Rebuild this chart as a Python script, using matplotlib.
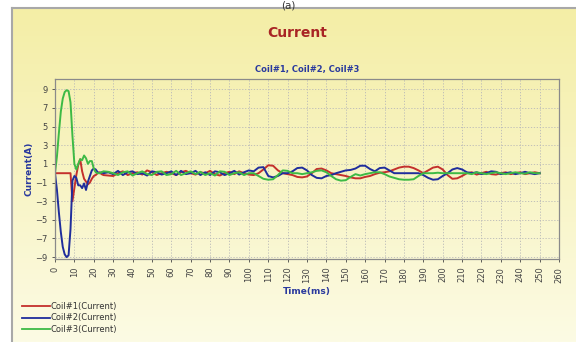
import numpy as np
import matplotlib
matplotlib.use("Agg")
import matplotlib.pyplot as plt
from matplotlib.lines import Line2D

# time axis (ms): 1 ms steps during the transient, then 2.5 ms steps
time_early = list(range(0, 26))
time_late = list(np.arange(27.5, 250.1, 2.5))
time_ms = np.array(time_early + time_late)

coil1_early = [0, 0, 0, 0, 0, 0, 0, 0, 0, -3.0, -1.6, -0.2, 0.9, 1.5, 0.2, -0.6,
               -0.9, -1.2, -1.0, -0.6, -0.3, -0.2, 0.0, 0.1, -0.1, -0.2]
coil2_early = [0, -1.8, -4.2, -6.3, -7.9, -8.7, -9.0, -8.8, -6.0, -0.8, -0.3, -0.5,
               -1.3, -1.3, -1.6, -1.1, -1.8, -0.9, -0.3, 0.3, 0.5, 0.4, 0.1, 0.0, 0.1, 0.0]
coil3_early = [0, 1.8, 4.3, 6.6, 8.0, 8.7, 8.9, 8.8, 7.6, 4.0, 1.0, 0.4,
               1.0, 1.5, 1.4, 1.9, 1.6, 1.0, 1.3, 1.3, 0.5, 0.1, 0.0, 0.0, 0.1, 0.2]

coil1_late = [-0.25, -0.3, 0.0, 0.2, -0.2, 0.0, 0.1, -0.15, 0.3, 0.1,
              -0.2, 0.0, 0.15, 0.0, -0.2, 0.1, 0.25, 0.0, -0.15, 0.1,
              0.0, 0.25, -0.1, -0.25, 0.0, 0.15, -0.1, 0.2, 0.0, -0.15,
              -0.2, 0.0, 0.4, 0.85, 0.8, 0.3, 0.0, -0.1, -0.2, -0.4,
              -0.45, -0.35, 0.0, 0.45, 0.5, 0.3, 0.0, -0.1, -0.2, -0.3,
              -0.45, -0.55, -0.55, -0.4, -0.3, -0.1, 0.05, 0.1, 0.2, 0.4,
              0.6, 0.7, 0.7, 0.55, 0.3, 0.0, 0.3, 0.6, 0.7, 0.4,
              -0.2, -0.6, -0.55, -0.3, 0.0, 0.1, -0.15, 0.0, 0.15, -0.1,
              -0.15, 0.0, 0.1, -0.1, 0.0, 0.1, -0.1, 0.0, 0.1, 0.0]
coil2_late = [0.1, -0.1, 0.25, -0.2, 0.1, 0.2, -0.1, 0.0, -0.25, 0.2,
              0.1, -0.15, 0.0, 0.2, -0.2, 0.25, -0.1, 0.0, 0.25, -0.2,
              0.1, -0.2, 0.2, 0.1, -0.2, 0.0, 0.25, -0.15, 0.1, 0.3,
              0.2, 0.6, 0.65, -0.3, -0.45, -0.3, 0.0, 0.0, 0.2, 0.55,
              0.6, 0.3, -0.2, -0.5, -0.55, -0.3, -0.2, 0.0, 0.15, 0.3,
              0.35, 0.5, 0.8, 0.8, 0.45, 0.2, 0.55, 0.6, 0.3, 0.0,
              0.0, 0.0, 0.0, 0.0, 0.0, -0.2, -0.5, -0.7, -0.65, -0.3,
              0.0, 0.4, 0.55, 0.4, 0.1, 0.0, 0.1, -0.1, 0.0, 0.2,
              0.15, -0.1, 0.0, 0.1, -0.1, 0.0, 0.15, 0.0, -0.1, 0.0]
coil3_late = [0.15, 0.0, -0.2, 0.1, 0.2, -0.25, 0.0, 0.2, -0.1, -0.2,
              0.15, 0.2, -0.2, -0.1, 0.25, -0.2, 0.0, 0.2, -0.1, 0.15,
              -0.2, 0.0, -0.25, 0.2, 0.15, -0.2, 0.0, 0.1, -0.2, 0.0,
              0.0, -0.3, -0.6, -0.7, -0.65, -0.2, 0.3, 0.25, 0.0, 0.0,
              -0.1, 0.0, 0.1, 0.25, 0.3, 0.1, -0.3, -0.65, -0.8, -0.75,
              -0.4, -0.1, -0.25, -0.1, 0.0, 0.1, 0.1, -0.1, -0.35, -0.5,
              -0.65, -0.7, -0.7, -0.65, -0.3, 0.0, 0.0, 0.0, 0.05, 0.0,
              0.0, 0.0, 0.0, 0.0, 0.0, -0.1, 0.1, 0.0, -0.1, 0.0,
              0.1, 0.0, -0.1, 0.0, 0.1, 0.0, -0.05, 0.1, 0.0, 0.0]

coil1 = np.array(coil1_early + coil1_late)
coil2 = np.array(coil2_early + coil2_late)
coil3 = np.array(coil3_early + coil3_late)

series_names = ["Coil#1(Current)", "Coil#2(Current)", "Coil#3(Current)"]
series_colors = ["#c4302c", "#1f2d9c", "#3dba45"]
x_ticks = list(range(0, 261, 10))
y_ticks = list(range(-9, 10, 2))

fig = plt.figure(figsize=(5.76, 3.42), dpi=100)
fig.patch.set_facecolor("white")

# yellow gradient panel behind everything
bg = fig.add_axes([12 / 576, 0, 1 - 12 / 576, 1 - 8 / 342], zorder=0)
grad = np.linspace(0, 1, 256).reshape(-1, 1)
cmap = matplotlib.colors.LinearSegmentedColormap.from_list(
    "panel", ["#f4eea6", "#f8f4c4", "#fcfbe4"])
bg.imshow(grad, aspect="auto", cmap=cmap, extent=[0, 1, 0, 1], origin="upper")
bg.set_xticks([])
bg.set_yticks([])
for side in ["right", "bottom"]:
    bg.spines[side].set_visible(False)
for side in ["left", "top"]:
    bg.spines[side].set_color("#a8a8a8")
    bg.spines[side].set_linewidth(1.5)

fig.text(0.5, 1.0, "(a)", ha="center", va="top", fontsize=7.5, color="#333333", zorder=5)
fig.text(297 / 576, 1 - 33 / 342, "Current", ha="center", va="center",
         fontsize=10, fontweight="bold", color="#a82424")

ax = fig.add_axes([55 / 576, 1 - 259 / 342, (559 - 55) / 576, 180 / 342], zorder=1)
ax.patch.set_alpha(0)
for name, vals, col in zip(series_names, [coil1, coil2, coil3], series_colors):
    ax.plot(time_ms, vals, color=col, lw=1.4, label=name)

ax.set_xlim(0, 260)
ax.set_ylim(-9.2, 10.1)
ax.set_xticks(x_ticks)
ax.set_xticklabels([str(v) for v in x_ticks], rotation=90)
ax.set_yticks(y_ticks)
ax.tick_params(labelsize=6, colors="#444444", length=2, width=0.6)
ax.grid(True, linestyle=(0, (1.5, 2)), color="#b8b8b8", linewidth=0.6)
for s in ax.spines.values():
    s.set_color("#8a8a8a")
    s.set_linewidth(0.9)

ax.set_title("Coil#1, Coil#2, Coil#3", fontsize=6, fontweight="bold",
             color="#2a3a9e", pad=5)
ax.set_xlabel("Time(ms)", fontsize=6.5, fontweight="bold", color="#2a3a9e", labelpad=3)
ax.set_ylabel("Current(A)", fontsize=6.5, fontweight="bold", color="#2a3a9e", labelpad=1)

handles = [Line2D([], [], color=c, lw=1.3) for c in series_colors]
fig.legend(handles, series_names, loc="upper left",
           bbox_to_anchor=(14 / 576, 1 - 294 / 342), frameon=False,
           fontsize=6, handlelength=3.4, handletextpad=0.1, labelspacing=0.35,
           labelcolor="#333333")

fig.savefig("out.png", dpi=100)
